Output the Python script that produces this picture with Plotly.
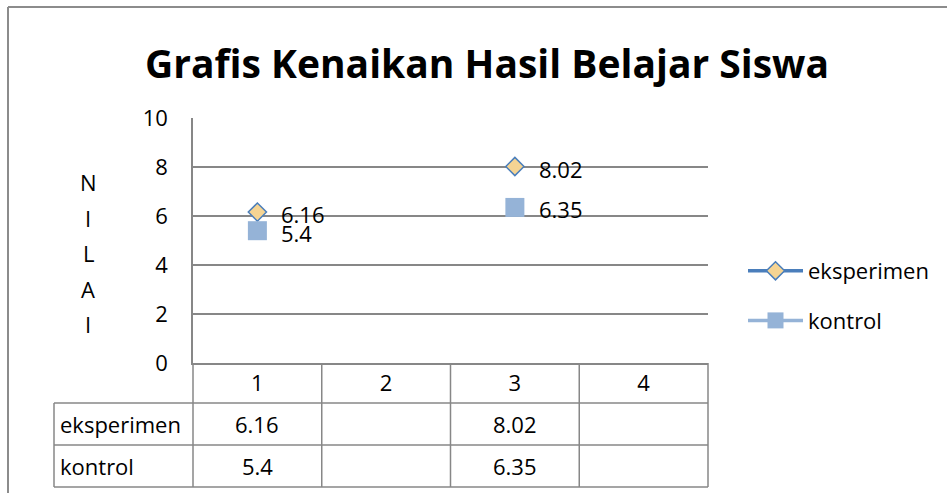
import plotly.graph_objects as go

# ---- data ----
categories = ["1", "2", "3", "4"]
cat_pos = [1, 2, 3, 4]
series_names = ["eksperimen", "kontrol"]
eksperimen = [6.16, None, 8.02, None]
kontrol = [5.4, None, 6.35, None]
y_ticks = [0, 2, 4, 6, 8, 10]
title_text = "Grafis Kenaikan Hasil Belajar Siswa"
y_title_letters = ["N", "I", "L", "A", "I"]

# ---- layout geometry (pixels) ----
W, H = 947, 493
L, R, T, B = 193, 708, 118, 363
PW, PH = R - L, B - T

def px_x(x):
    return (x - L) / PW

def px_y(y):
    return (B - y) / PH

FONT = "Open Sans"
GRID = "#878787"
TXT = "#000000"

fig = go.Figure()

fig.add_trace(go.Scatter(
    x=cat_pos, y=eksperimen, name=series_names[0], mode="lines+markers",
    connectgaps=False, legendgroup="a",
    line=dict(color="#4A7EBB", width=3.5),
    marker=dict(symbol="diamond", size=14, color="#F5D493",
                line=dict(color="#4A7EBB", width=1.5)),
))
fig.add_trace(go.Scatter(
    x=cat_pos, y=kontrol, name=series_names[1], mode="lines+markers",
    connectgaps=False, legendgroup="b",
    line=dict(color="#95B3D7", width=3.5),
    marker=dict(symbol="square", size=19, color="#95B3D7",
                line=dict(color="#95B3D7", width=0)),
))

annotations = []
# data labels
for vals in (eksperimen, kontrol):
    for x, v in zip(cat_pos, vals):
        if v is None:
            continue
        annotations.append(dict(
            x=x, y=v, xref="x", yref="y", text=f"{v:g}", showarrow=False,
            xanchor="left", yanchor="middle", xshift=22, yshift=-2,
            font=dict(family=FONT, size=22, color=TXT)))

# y-axis title (stacked letters)
for i, ch in enumerate(y_title_letters):
    annotations.append(dict(
        x=px_x(88), y=px_y(182 + i * 35.5), xref="paper", yref="paper",
        text=ch, showarrow=False, xanchor="center", yanchor="middle",
        font=dict(family=FONT, size=22, color=TXT)))

# data table
row_centers = [424, 466]
for name, vals, yc in zip(series_names, (eksperimen, kontrol), row_centers):
    annotations.append(dict(
        x=px_x(58), y=px_y(yc), xref="paper", yref="paper", text=name,
        showarrow=False, xanchor="left", yanchor="middle",
        font=dict(family=FONT, size=22, color=TXT)))
    for x, v in zip(cat_pos, vals):
        if v is None:
            continue
        annotations.append(dict(
            x=x, y=px_y(yc), xref="x", yref="paper", text=f"{v:g}",
            showarrow=False, xanchor="center", yanchor="middle",
            font=dict(family=FONT, size=22, color=TXT)))

shapes = []
line_style = dict(color=GRID, width=1.5)
# table horizontal lines
for yy, x0 in ((403, 54), (445, 54), (487, 54)):
    shapes.append(dict(type="line", xref="paper", yref="paper",
                       x0=px_x(x0), x1=1, y0=px_y(yy), y1=px_y(yy), line=line_style))
# table vertical lines (category boundaries)
n = len(categories)
for k in range(n + 1):
    shapes.append(dict(type="line", xref="paper", yref="paper",
                       x0=k / n, x1=k / n, y0=0, y1=px_y(487), line=line_style))
shapes.append(dict(type="line", xref="paper", yref="paper",
                   x0=px_x(54), x1=px_x(54), y0=px_y(403), y1=px_y(487), line=line_style))
# chart frame (left and top)
shapes.append(dict(type="line", xref="paper", yref="paper",
                   x0=px_x(8), x1=px_x(8), y0=px_y(7), y1=px_y(493), line=dict(color="#8C8C8C", width=2)))
shapes.append(dict(type="line", xref="paper", yref="paper",
                   x0=px_x(8), x1=px_x(947), y0=px_y(7), y1=px_y(7), line=dict(color="#8C8C8C", width=2)))

fig.update_layout(
    width=W, height=H,
    margin=dict(l=L, r=W - R, t=T, b=H - B, pad=0),
    paper_bgcolor="white", plot_bgcolor="white",
    font=dict(family=FONT, size=22, color=TXT),
    title=dict(text=title_text, x=487 / W, xanchor="center",
               y=1 - 64 / H, yanchor="middle",
               font=dict(family=FONT, size=39, color=TXT, weight="bold")),
    showlegend=True,
    legend=dict(x=px_x(743), y=px_y(250), xanchor="left", yanchor="top",
                font=dict(family=FONT, size=22, color=TXT),
                tracegroupgap=18, bgcolor="rgba(0,0,0,0)", itemwidth=55),
    xaxis=dict(range=[0.5, 4.5], tickvals=cat_pos, ticktext=categories,
               showgrid=False, zeroline=False, showline=True, linecolor=GRID,
               linewidth=1.5, ticks="", ticklabelstandoff=0,
               tickfont=dict(family=FONT, size=22, color=TXT), fixedrange=True),
    yaxis=dict(range=[0, 10], tickvals=y_ticks, showgrid=True, gridcolor=GRID,
               gridwidth=1.5, zeroline=False, showline=True, linecolor=GRID,
               linewidth=1.5, ticks="", ticklabelstandoff=19,
               tickfont=dict(family=FONT, size=22, color=TXT), fixedrange=True),
    annotations=annotations,
    shapes=shapes,
)

fig.write_html("out.html", config={"displayModeBar": False},
               post_script="document.body.style.margin='0';")
